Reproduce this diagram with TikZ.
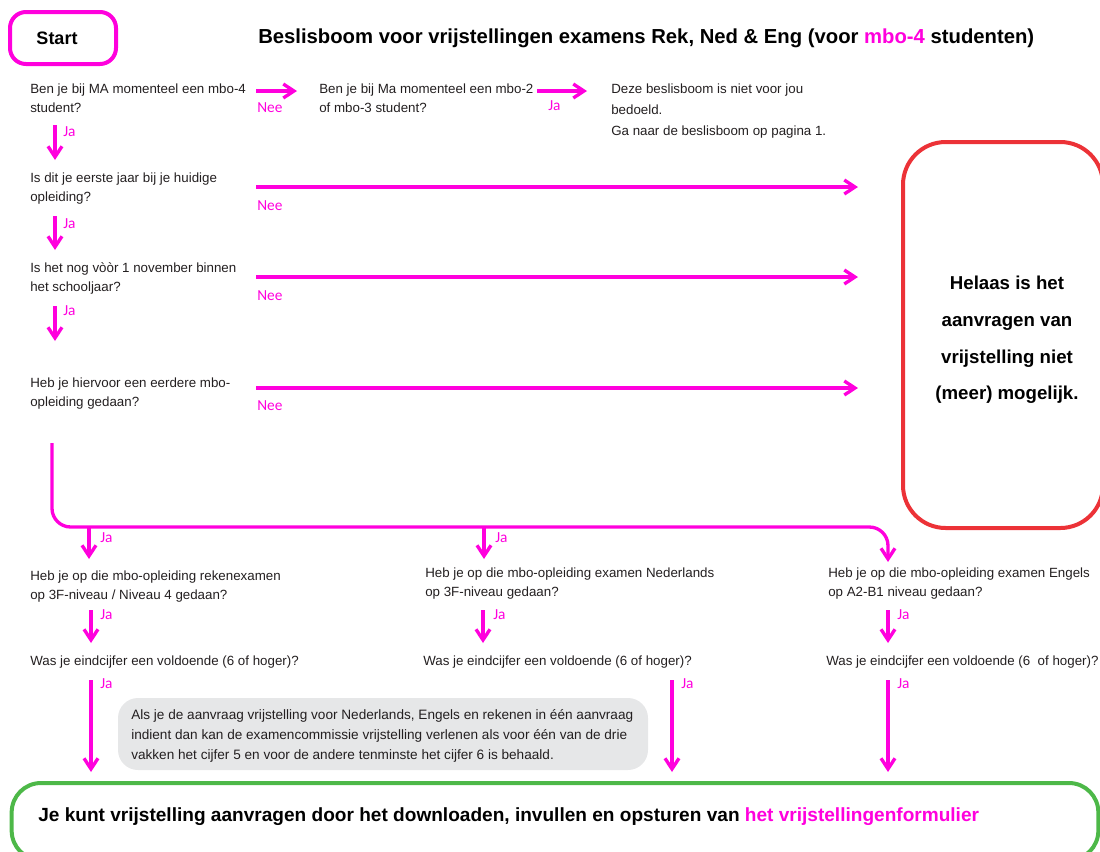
\documentclass[tikz,border=0pt]{standalone}
\usepackage{fontspec}
\setmainfont{Liberation Sans}
\newfontfamily\lblfont{Carlito}
\usetikzlibrary{arrows.meta}
\definecolor{mag}{RGB}{255,0,221}
\definecolor{redb}{RGB}{236,50,55}
\definecolor{greenb}{RGB}{77,184,72}
\definecolor{grayb}{RGB}{230,231,232}
\definecolor{txt}{RGB}{35,31,32}
\begin{document}
\begin{tikzpicture}[x=0.75pt,y=-0.75pt,
 q/.style={anchor=base west, inner sep=0pt, align=left, font=\fontsize{10}{14.25}\selectfont, text=txt},
 lbl/.style={anchor=west, inner sep=0pt, font=\lblfont\fontsize{11.5}{12}\selectfont, text=mag},
 arr/.style={draw=mag, line width=2.5pt, -{Straight Barb[length=8pt,width=10.5pt]}},
 startbox/.style={draw=mag, line width=3pt, rounded corners=12pt, minimum width=79.5pt, minimum height=39pt, inner sep=0pt, font=\bfseries\fontsize{13.5}{16}\selectfont, text=black},
 failbox/.style={draw=redb, line width=3pt, rounded corners=32pt, minimum width=150pt, minimum height=289.5pt, inner sep=0pt},
 failtext/.style={inner sep=0pt, align=center, font=\bfseries\fontsize{14}{27.5}\selectfont, text=black},
 finalbox/.style={draw=greenb, line width=3pt, rounded corners=22pt, minimum width=815pt, minimum height=57.75pt, inner sep=0pt},
 finaltext/.style={anchor=west, inner sep=0pt, font=\bfseries\fontsize{14.3}{16}\selectfont, text=black},
 notebox/.style={fill=grayb, rounded corners=15pt, minimum width=397.5pt, minimum height=54pt, inner sep=0pt},
 notetext/.style={anchor=base west, inner sep=0pt, align=left, font=\fontsize{10.2}{15}\selectfont, text=txt},
]
\useasboundingbox (0,0) rectangle (1100,851);

% start and title
\node[startbox] (start) at (63,38) {Start\hspace*{9pt}};
\node[anchor=base west, inner sep=0pt, font=\bfseries\fontsize{15.2}{18}\selectfont, text=black] (title) at (258,43)
  {Beslisboom voor vrijstellingen examens Rek, Ned \& Eng (voor \textcolor{mag}{mbo-4} studenten)};

% first row (base anchor = last line baseline)
\node[q] (q1) at (30,112) {Ben je bij MA momenteel een mbo-4\\student?};
\node[q] (q2) at (319,112) {Ben je bij Ma momenteel een mbo-2\\of mbo-3 student?};
\node[q, font=\fontsize{10}{15.75}\selectfont] (deze) at (611,135) {Deze beslisboom is niet voor jou\\bedoeld.\\Ga naar de beslisboom op pagina 1.};

\coordinate (n1s) at (256,91); \coordinate (n1e) at (297,91);
\draw[arr] (n1s) -- (n1e);
\node[lbl] (lnee1) at (257,108) {Nee};
\coordinate (j1s) at (537,91); \coordinate (j1e) at (587,91);
\draw[arr] (j1s) -- (j1e);
\node[lbl] (lja1) at (548,106) {Ja};

% left column
\coordinate (d1s) at (55,125); \coordinate (d1e) at (55,160);
\draw[arr] (d1s) -- (d1e);
\node[lbl] (lja2) at (63,132) {Ja};
\node[q] (q3) at (30,201) {Is dit je eerste jaar bij je huidige\\opleiding?};
\coordinate (d2s) at (55,216); \coordinate (d2e) at (55,250);
\draw[arr] (d2s) -- (d2e);
\node[lbl] (lja3) at (63,224) {Ja};
\node[q] (q4) at (30,291) {Is het nog vòòr 1 november binnen\\het schooljaar?};
\coordinate (d3s) at (55,306); \coordinate (d3e) at (55,341);
\draw[arr] (d3s) -- (d3e);
\node[lbl] (lja4) at (63,311) {Ja};
\node[q] (q5) at (30,406) {Heb je hiervoor een eerdere mbo-\\opleiding gedaan?};

% fail box
\node[failbox] (fail) at (1003,335) {};
\node[failtext] (failt) at (1007,340) {Helaas is het\\aanvragen van\\vrijstelling niet\\(meer) mogelijk.};
\coordinate (n2s) at (256,187); \coordinate (n2e) at (858,187);
\draw[arr] (n2s) -- (n2e);
\node[lbl] (lnee2) at (257,206) {Nee};
\coordinate (n3s) at (256,277); \coordinate (n3e) at (858,277);
\draw[arr] (n3s) -- (n3e);
\node[lbl] (lnee3) at (257,296) {Nee};
\coordinate (n4s) at (256,388); \coordinate (n4e) at (858,388);
\draw[arr] (n4s) -- (n4e);
\node[lbl] (lnee4) at (257,406) {Nee};

% bracket
\coordinate (brtop) at (52,443);
\coordinate (brright) at (888,527);
\coordinate (brend) at (888,562);
\draw[arr, rounded corners=14pt] (brtop) |- (brright) -- (brend);
\coordinate (b1s) at (89,527); \coordinate (b1e) at (89,559);
\draw[arr] (b1s) -- (b1e);
\node[lbl] (lja5) at (100,538) {Ja};
\coordinate (b2s) at (484,527); \coordinate (b2e) at (484,559);
\draw[arr] (b2s) -- (b2e);
\node[lbl] (lja6) at (495,538) {Ja};

% second level questions
\node[q] (q6a) at (30,599) {Heb je op die mbo-opleiding rekenexamen\\op 3F-niveau / Niveau 4 gedaan?};
\node[q] (q6b) at (425,596) {Heb je op die mbo-opleiding examen Nederlands\\op 3F-niveau gedaan?};
\node[q] (q6c) at (828,596) {Heb je op die mbo-opleiding examen Engels\\op A2-B1 niveau gedaan?};

\coordinate (c1s) at (91,610); \coordinate (c1e) at (91,643);
\draw[arr] (c1s) -- (c1e);
\node[lbl] (lja7) at (100,615) {Ja};
\coordinate (c2s) at (483,610); \coordinate (c2e) at (483,643);
\draw[arr] (c2s) -- (c2e);
\node[lbl] (lja8) at (493,615) {Ja};
\coordinate (c3s) at (888,610); \coordinate (c3e) at (888,643);
\draw[arr] (c3s) -- (c3e);
\node[lbl] (lja9) at (897,615) {Ja};

\node[q] (q7a) at (30,665) {Was je eindcijfer een voldoende (6 of hoger)?};
\node[q] (q7b) at (423,665) {Was je eindcijfer een voldoende (6 of hoger)?};
\node[q] (q7c) at (826,665) {Was je eindcijfer een voldoende (6\ \ of hoger)?};

% note
\node[notebox] (note) at (383,734) {};
\node[notetext] (notet) at (131,759) {Als je de aanvraag vrijstelling voor Nederlands, Engels en rekenen in één aanvraag\\indient dan kan de examencommissie vrijstelling verlenen als voor één van de drie\\vakken het cijfer 5 en voor de andere tenminste het cijfer 6 is behaald.};

% final box
\node[finalbox] (final) at (555,821.5) {};
\node[finaltext] (finalt) at (38,817) {Je kunt vrijstelling aanvragen door het downloaden, invullen en opsturen van \textcolor{mag}{het vrijstellingenformulier}};

\coordinate (e1s) at (91,680); \coordinate (e1e) at (91,772);
\draw[arr] (e1s) -- (e1e);
\node[lbl] (lja10) at (100,684) {Ja};
\coordinate (e2s) at (672,680); \coordinate (e2e) at (672,772);
\draw[arr] (e2s) -- (e2e);
\node[lbl] (lja11) at (681,684) {Ja};
\coordinate (e3s) at (888,680); \coordinate (e3e) at (888,772);
\draw[arr] (e3s) -- (e3e);
\node[lbl] (lja12) at (897,684) {Ja};
\end{tikzpicture}
\end{document}
